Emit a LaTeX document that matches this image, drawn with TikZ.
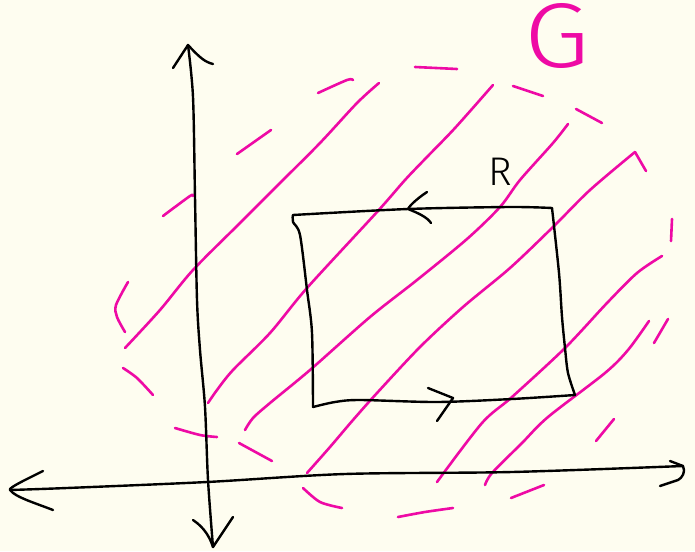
\documentclass[tikz,border=0pt]{standalone}
\usepackage{fontspec}
\setmainfont{Fira Sans Light}
\definecolor{paper}{RGB}{254,253,240}
\definecolor{pinkink}{RGB}{238,10,165}
\begin{document}
\begin{tikzpicture}[x=1pt,y=-1pt,
  ink/.style={line width=2.4pt,line cap=round,line join=round,black},
  pen/.style={line width=2.6pt,line cap=round,line join=round,pinkink},
  lbl/.style={inner sep=0pt}]
\fill[paper] (0,0) rectangle (695,551);
\useasboundingbox (0,0) rectangle (695,551);
% hatching of G
\draw[pen] plot[smooth] coordinates {(379,83) (357,103) (320,143) (280,183) (240,223) (193,270) (160,310) (125,348)};
\draw[pen] plot[smooth] coordinates {(493,85) (455,128) (426,158) (405,180) (377,212) (307,288) (270,333) (233,370) (217,390) (208,403)};
\draw[pen] plot[smooth] coordinates {(568,124) (553,143) (520,180) (500,207) (467,239) (417,280) (370,317) (310,370) (270,403) (253,418) (245,430)};
\draw[pen] (646,171) -- (635,152);
\draw[pen] plot[smooth] coordinates {(635,152) (590,190) (553,227) (510,268) (463,307) (420,347) (377,393) (353,420) (330,447) (307,473)};
\draw[pen] plot[smooth] coordinates {(662,256) (637,273) (607,303) (565,348) (512,397) (482,423) (437,482)};
\draw[pen] plot[smooth] coordinates {(649,321) (628,350) (605,373) (548,417) (522,443) (492,473) (485,485)};
% dashed boundary of G
\draw[pen] (415,67) -- (457,69);
\draw[pen] plot[smooth] coordinates {(318,93) (347,80) (353,80)};
\draw[pen] (513,86) -- (543,96);
\draw[pen] (576,109) -- (602,123);
\draw[pen] (237,154) -- (271,130);
\draw[pen] plot[smooth] coordinates {(163,216) (190,196) (193,196)};
\draw[pen] plot[smooth] coordinates {(128,282) (116,305) (117,317) (125,332)};
\draw[pen] (672,219) -- (671,241);
\draw[pen] (668,319) -- (654,343);
\draw[pen] plot[smooth] coordinates {(123,368) (137,378) (153,395)};
\draw[pen] plot[smooth] coordinates {(175,428) (200,435) (217,437)};
\draw[pen] (239,443) -- (272,461);
\draw[pen] (614,419) -- (596,441);
\draw[pen] plot[smooth] coordinates {(303,488) (320,502) (342,508)};
\draw[pen] plot[smooth] coordinates {(398,517) (425,512) (453,508)};
\draw[pen] (511,498) -- (544,485);
% axes
\coordinate (ytop) at (188,45);
\coordinate (ybot) at (213,547);
\coordinate (xleft) at (10,490);
\coordinate (xright) at (683,466);
\draw[ink] plot[smooth] coordinates {(188,45) (193,97) (195,197) (197,300) (200,350) (205,407) (208,480) (213,547)};
\draw[ink] (173,68) -- (ytop) .. controls (200,58) and (205,62) .. (213,64);
\draw[ink] (193,520) .. controls (205,528) and (210,538) .. (ybot) -- (233,517);
\draw[ink] plot[smooth] coordinates {(10,490) (67,488) (207,482) (345,474) (512,472) (683,466)};
\draw[ink] (43,471) .. controls (25,480) and (8,488) .. (xleft) .. controls (15,497) and (35,503) .. (53,510);
\draw[ink] (670,461) -- (xright) .. controls (686,472) and (682,478) .. (678,480) -- (660,486);
% rectangle R
\draw[ink] plot[smooth] coordinates {(293,215) (293,222) (300,235) (307,290) (312,333) (313,407)};
\draw[ink] plot[smooth] coordinates {(313,407) (335,402) (360,400) (437,402) (512,399) (575,395)};
\draw[ink] plot[smooth] coordinates {(575,395) (568,373) (565,348) (562,317) (559,273) (552,208)};
\draw[ink] plot[smooth] coordinates {(552,208) (510,207) (408,209) (293,215)};
\coordinate (topar) at (408,209);
\coordinate (botar) at (453,398);
\draw[ink] (427,192) .. controls (418,198) and (410,205) .. (topar) .. controls (418,213) and (427,217) .. (431,223);
\draw[ink] (428,388) -- (botar) -- (437,421);
% labels
\node[lbl,font=\fontsize{40}{40}\selectfont] (R) at (500,172) {R};
\node[lbl,font=\fontsize{92}{92}\selectfont,text=pinkink,xscale=1.15] (G) at (557,36) {G};
\end{tikzpicture}
\end{document}
